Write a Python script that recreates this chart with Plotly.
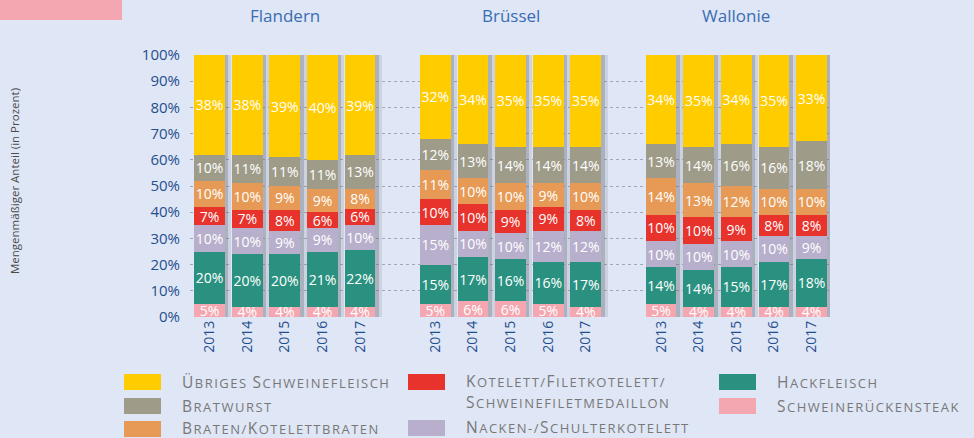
import plotly.graph_objects as go

# --- data -------------------------------------------------------------
regions = ["Flandern", "Brüssel", "Wallonie"]
years = ["2013", "2014", "2015", "2016", "2017"]

# shares in percent, ordered Flandern 2013-2017, Brüssel 2013-2017, Wallonie 2013-2017
schweinerueckensteak = [5, 4, 4, 4, 4, 5, 6, 6, 5, 4, 5, 4, 4, 4, 4]
hackfleisch = [20, 20, 20, 21, 22, 15, 17, 16, 16, 17, 14, 14, 15, 17, 18]
nacken = [10, 10, 9, 9, 10, 15, 10, 10, 12, 12, 10, 10, 10, 10, 9]
kotelett = [7, 7, 8, 6, 6, 10, 10, 9, 9, 8, 10, 10, 9, 8, 8]
braten = [10, 10, 9, 9, 8, 11, 10, 10, 9, 10, 14, 13, 12, 10, 10]
bratwurst = [10, 11, 11, 11, 13, 12, 13, 14, 14, 14, 13, 14, 16, 16, 18]
uebriges = [38, 38, 39, 40, 39, 32, 34, 35, 35, 35, 34, 35, 34, 35, 33]

series_names = [
    "Schweinerückensteak",
    "Hackfleisch",
    "Nacken-/Schulterkotelett",
    "Kotelett/Filetkotelett/\nSchweinefiletmedaillon",
    "Braten/Kotelettbraten",
    "Bratwurst",
    "Übriges Schweinefleisch",
]
series_values = [schweinerueckensteak, hackfleisch, nacken, kotelett, braten, bratwurst, uebriges]
series_colors = ["#f4a7b0", "#2a9180", "#b8afcc", "#e8322c", "#e69a55", "#9e9b88", "#ffcc00"]

# --- layout helpers ---------------------------------------------------
W, H = 974, 438
ML, MR, MT, MB = 190, 144, 55, 121
PW, PH = W - ML - MR, H - MT - MB


def px(x):
    return (x - ML) / PW


def py(y):
    return (H - MB - y) / PH


def small_caps(line, big=15.5):
    """Render one line in small caps: capitals are enlarged, the rest become
    capitals at the base size."""
    out, buf = [], ""
    for ch in line:
        if ch.isupper():
            if buf:
                out.append(buf)
                buf = ""
            out.append(f'<span style="font-size:{big}px">{ch}</span>')
        else:
            buf += ch.upper()
    if buf:
        out.append(buf)
    return '<span style="letter-spacing:1.5px">' + "".join(out) + "</span>"


BG = "#dfe6f5"
FONT = "Open Sans"
AXIS_BLUE = "#1f4f8f"

# bar positions: five years per region, two empty slots between regions
gap = 6
xpos = [r * gap + i for r in range(len(regions)) for i in range(len(years))]
tick_text = [y for _ in regions for y in years]
bar_w = 0.82

totals = [sum(v[k] for v in series_values) for k in range(len(xpos))]

fig = go.Figure()

# soft drop shadow behind every column
for off, col in [(0.17, "rgba(120,122,135,0.18)"), (0.09, "rgba(100,102,115,0.30)")]:
    fig.add_trace(go.Bar(
        x=[p + off for p in xpos], y=totals, width=bar_w,
        marker=dict(color=col, line=dict(width=0)),
        hoverinfo="skip", showlegend=False,
    ))

for name, vals, color in zip(series_names, series_values, series_colors):
    fig.add_trace(go.Bar(
        x=xpos, y=vals, width=bar_w, name=name.replace("\n", " "),
        marker=dict(color=color, line=dict(width=0)),
        text=[f"{v}%" for v in vals],
        textposition="inside", insidetextanchor="middle", textangle=0,
        constraintext="none", cliponaxis=False,
        textfont=dict(family=FONT, size=14, color="white"),
        showlegend=False,
    ))

fig.update_layout(
    width=W, height=H,
    margin=dict(l=ML, r=MR, t=MT, b=MB),
    paper_bgcolor=BG, plot_bgcolor=BG,
    barmode="stack", barnorm="percent",
    font=dict(family=FONT),
    showlegend=False,
)

fig.update_xaxes(
    range=[-0.52, 16.49],
    tickmode="array", tickvals=xpos, ticktext=tick_text,
    tickangle=-90, tickfont=dict(family=FONT, size=14, color=AXIS_BLUE),
    showgrid=False, zeroline=False, showline=False, ticks="",
)
fig.update_yaxes(
    range=[0, 100], dtick=10, ticksuffix="%",
    tickfont=dict(family=FONT, size=15, color=AXIS_BLUE),
    showgrid=True, gridcolor="#a3a7b2", griddash="dot", gridwidth=1,
    zeroline=False, showline=False, ticks="", ticklabelstandoff=9,
)

annotations = []
# region headings
for r, reg in enumerate(regions):
    annotations.append(dict(
        x=r * gap + (len(years) - 1) / 2, xref="x", y=py(16), yref="paper",
        text=reg, showarrow=False, xanchor="center", yanchor="middle",
        font=dict(family=FONT, size=17, color="#3a6db3"),
    ))

# vertical axis caption
annotations.append(dict(
    x=px(14), xref="paper", y=py(181), yref="paper",
    text="Mengenmäßiger Anteil (in Prozent)", textangle=-90, showarrow=False,
    xanchor="center", yanchor="middle",
    font=dict(family=FONT, size=11.5, color="#4a4a4a"),
))

# legend: swatch (x, y centre) and label (x, first line y), three columns
legend_layout = {
    "Übriges Schweinefleisch": (124, 382, 180, 382),
    "Bratwurst": (124, 406, 180, 406),
    "Braten/Kotelettbraten": (124, 429, 180, 428),
    "Kotelett/Filetkotelett/\nSchweinefiletmedaillon": (408, 382, 464, 380.5),
    "Nacken-/Schulterkotelett": (408, 428, 464, 427),
    "Hackfleisch": (719, 382, 775, 382),
    "Schweinerückensteak": (719, 406, 775, 406),
}
line_step = 21.5
shapes = [dict(
    type="rect", xref="paper", yref="paper",
    x0=px(0), x1=px(122), y0=py(0), y1=py(20),
    fillcolor="#f4a7b0", line=dict(width=0), layer="above",
)]
for name, color in zip(series_names, series_colors):
    sx, sy, tx, ty = legend_layout[name]
    shapes.append(dict(
        type="rect", xref="paper", yref="paper",
        x0=px(sx), x1=px(sx + 37), y0=py(sy - 8), y1=py(sy + 8),
        fillcolor=color, line=dict(width=0),
    ))
    for k, line in enumerate(name.split("\n")):
        annotations.append(dict(
            x=px(tx), xref="paper", y=py(ty + k * line_step), yref="paper",
            text=small_caps(line), showarrow=False,
            xanchor="left", yanchor="middle", align="left",
            font=dict(family=FONT, size=13, color="#787878"),
        ))

fig.update_layout(annotations=annotations, shapes=shapes)

fig.write_html("out.html")
